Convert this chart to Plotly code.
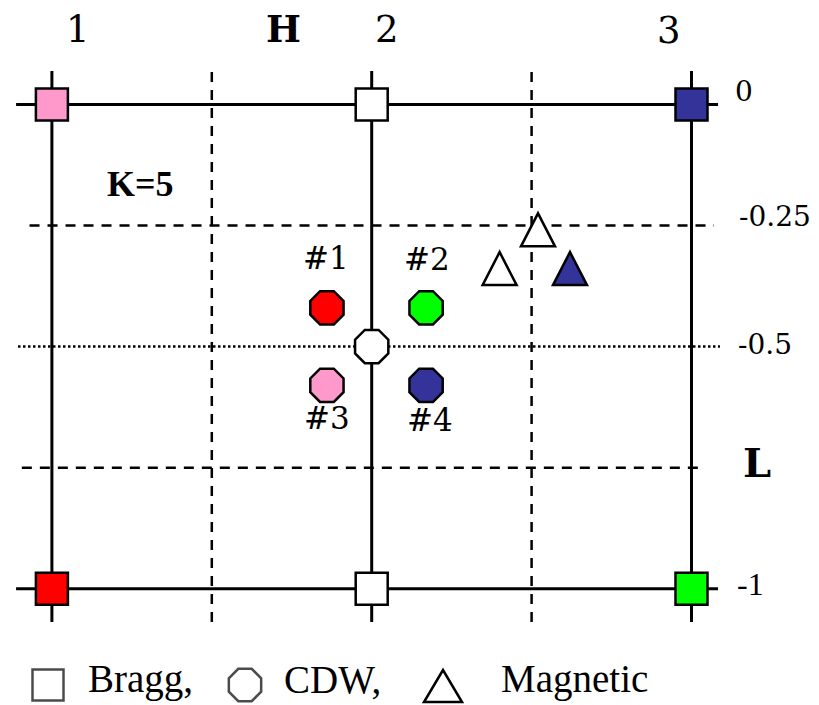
import plotly.graph_objects as go

# ---------------- data ----------------
H_tick_values = [1, 2, 3]
H_tick_labels = ["1", "2", "3"]
L_tick_values = [0, -0.25, -0.5, -1]
L_tick_labels = ["0", "-0.25", "-0.5", "-1"]

H_solid = [1, 2, 3]
H_dashed = [1.5, 2.5]
L_solid = [0, -1]
L_dashed = [-0.25, -0.75]
L_dotted = [-0.5]

bragg_H = [1, 2, 3, 1, 2, 3]
bragg_L = [0, 0, 0, -1, -1, -1]
bragg_colors = ["#FF99CC", "#FFFFFF", "#333399", "#FF0000", "#FFFFFF", "#00FF00"]

cdw_H = [2.0, 1.86, 2.17, 1.86, 2.17]
cdw_L = [-0.5, -0.42, -0.42, -0.58, -0.58]
cdw_colors = ["#FFFFFF", "#FF0000", "#00FF00", "#FF99CC", "#333399"]
cdw_labels = ["#1", "#2", "#3", "#4"]

mag_H = [2.52, 2.40, 2.62]
mag_L = [-0.26, -0.34, -0.34]
mag_colors = ["#FFFFFF", "#FFFFFF", "#333399"]

legend_labels = ["Bragg,", "CDW,", "Magnetic"]
legend_symbols = ["square", "octagon", "triangle"]

# ---------------- layout helpers ----------------
OFF = 8                      # page body margin of the browser
W, HGT = 819 - OFF, 705 - OFF
X_RANGE = [2 + (OFF - 371.7) / 319.8, 2 + (819 - 371.7) / 319.8]
Y_RANGE = [-0.5 - (705 - 346.6) / 484.4, -0.5 - (OFF - 346.6) / 484.4]


def px(x):
    return (x - OFF) / W


def py(y):
    return 1 - (y - OFF) / HGT


fig = go.Figure()

shapes = []
for h in H_solid:
    shapes.append(dict(type="line", xref="x", yref="y", x0=h, x1=h, y0=-1.0685, y1=0.069,
                       line=dict(color="black", width=3), layer="below"))
for h in H_dashed:
    shapes.append(dict(type="line", xref="x", yref="y", x0=h, x1=h, y0=-1.0685, y1=0.069,
                       line=dict(color="black", width=2.5, dash="10px,8px"), layer="below"))
for l in L_solid:
    shapes.append(dict(type="line", xref="x", yref="y", x0=0.888, x1=3.083, y0=l, y1=l,
                       line=dict(color="black", width=3), layer="below"))
dash_ext = {-0.25: (0.93, 3.07), -0.75: (0.906, 3.036)}
for l in L_dashed:
    a, b = dash_ext[l]
    shapes.append(dict(type="line", xref="x", yref="y", x0=a, x1=b, y0=l, y1=l,
                       line=dict(color="black", width=2.5, dash="10px,8px"), layer="below"))
for l in L_dotted:
    shapes.append(dict(type="line", xref="x", yref="y", x0=0.894, x1=3.089, y0=l, y1=l,
                       line=dict(color="black", width=2.5, dash="2.5px,2.5px"), layer="below"))

# magnetic triangles: path shapes anchored at data points, sized in pixels
TRI = "M -17 -16 L 17 -16 L 0 17 Z"
for h, l, c in zip(mag_H, mag_L, mag_colors):
    shapes.append(dict(type="path", xref="x", yref="y", xsizemode="pixel", ysizemode="pixel",
                       xanchor=h, yanchor=l, path=TRI, fillcolor=c,
                       line=dict(color="black", width=2.5), layer="above"))

# markers
fig.add_trace(go.Scatter(x=bragg_H, y=bragg_L, mode="markers", cliponaxis=False,
                         marker=dict(symbol="square", size=32, color=bragg_colors,
                                     line=dict(color="black", width=2.5))))
fig.add_trace(go.Scatter(x=cdw_H, y=cdw_L, mode="markers", cliponaxis=False,
                         marker=dict(symbol="octagon", size=36, color=cdw_colors,
                                     line=dict(color="black", width=2.5))))

# legend glyphs on an overlay axis measured in reference pixels
leg_x = [48, 245, 443]
leg_y = [685, 685, 686]
fig.add_trace(go.Scatter(x=leg_x[:2], y=leg_y[:2], mode="markers", xaxis="x2", yaxis="y2", cliponaxis=False,
                         marker=dict(symbol=legend_symbols[:2], size=[31, 35], color="white",
                                     line=dict(color="black", width=2.5))))
shapes.append(dict(type="path", xref="x2", yref="y2", xsizemode="pixel", ysizemode="pixel",
                   xanchor=leg_x[2], yanchor=leg_y[2], path="M -19 -16 L 19 -16 L 0 16 Z",
                   fillcolor="white", line=dict(color="black", width=2.5), layer="above"))

ann = []
serif = "DejaVu Serif"
times = "Liberation Serif"

top_pos = [(78, 29), (387, 29), (669, 30)]
for lab, (x, y) in zip(H_tick_labels, top_pos):
    ann.append(dict(text=lab, x=px(x), y=py(y), font=dict(family=serif, size=37, color="black")))
ann.append(dict(text="<b>H</b>", x=px(283), y=py(29), font=dict(family=serif, size=37, color="black")))

right_pos = [(744, 92), (775, 217), (765, 344), (750, 584)]
for lab, (x, y) in zip(L_tick_labels, right_pos):
    fam = times if lab == "-1" else serif
    sz = 32 if lab == "-1" else 28
    ann.append(dict(text=lab, x=px(x), y=py(y), font=dict(family=fam, size=sz, color="black")))
ann.append(dict(text="<b>L</b>", x=px(757), y=py(462), font=dict(family=serif, size=40, color="black")))

ann.append(dict(text="<b>K=5</b>", x=px(140), y=py(184), font=dict(family=times, size=36, color="black")))

cdw_lab_pos = [(326, 258), (427, 259), (327, 418), (430, 420)]
for lab, (x, y) in zip(cdw_labels, cdw_lab_pos):
    ann.append(dict(text=lab, x=px(x), y=py(y), font=dict(family=serif, size=31, color="black")))

leg_text_x = [86, 282, 499]
for lab, x in zip(legend_labels, leg_text_x):
    ann.append(dict(text=lab, x=px(x), y=py(679), xanchor="left",
                    font=dict(family=times, size=39, color="black")))

for a in ann:
    a.update(xref="paper", yref="paper", showarrow=False)
    a.setdefault("xanchor", "center")
    a.setdefault("yanchor", "middle")

fig.update_layout(
    width=W, height=HGT,
    margin=dict(l=0, r=0, t=0, b=0, pad=0),
    paper_bgcolor="white", plot_bgcolor="white",
    showlegend=False,
    shapes=shapes,
    annotations=ann,
    xaxis=dict(range=X_RANGE, visible=False, fixedrange=True),
    yaxis=dict(range=Y_RANGE, visible=False, fixedrange=True),
    xaxis2=dict(range=[OFF, 819], visible=False, overlaying="x", anchor="y2", fixedrange=True),
    yaxis2=dict(range=[705, OFF], visible=False, overlaying="y", anchor="x2", fixedrange=True),
)

fig.write_html("out.html")
